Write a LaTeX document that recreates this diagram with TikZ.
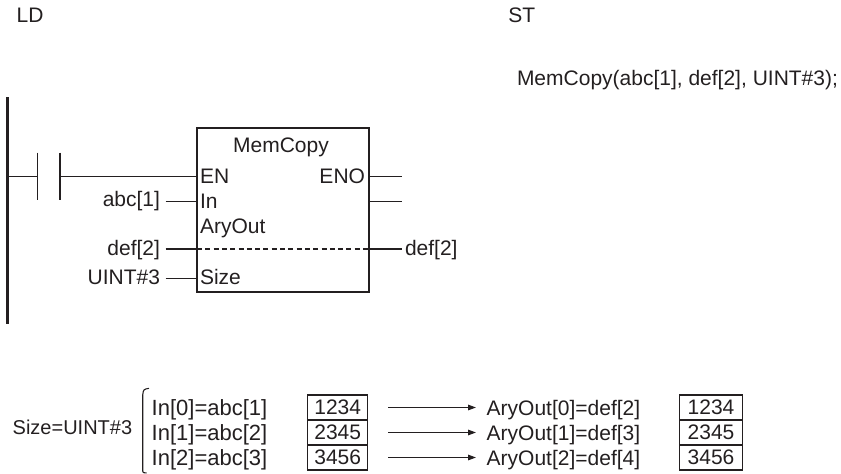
\documentclass[tikz,border=0pt]{standalone}
\usepackage{fontspec}
\setmainfont{Liberation Sans}
\usetikzlibrary{arrows.meta}
\definecolor{ink}{HTML}{231F20}
\begin{document}
\begin{tikzpicture}[x=1pt,y=-1pt,
  txt/.style={font=\fontsize{21}{25}\selectfont, inner sep=0pt, outer sep=0pt, text=ink},
  wire/.style={line width=1.3pt, draw=ink},
  rail/.style={line width=2.5pt, draw=ink},
  fbox/.style={draw=ink, line width=1.7pt, inner sep=0pt, outer sep=0pt, minimum width=172pt, minimum height=164pt},
  valbox/.style={draw=ink, line width=1.4pt, inner sep=0pt, outer sep=0pt, minimum height=25pt, font=\fontsize{21}{25}\selectfont, text=ink},
  arr/.style={line width=1.3pt, draw=ink, -{Triangle[length=8pt,width=5.5pt]}},
  brk/.style={line width=1.1pt, draw=ink}
]
\useasboundingbox (0,0) rectangle (841,474);

% headings
\node[txt,anchor=base west] (ld) at (16.7,22.7) {LD};
\node[txt,anchor=base west] (st) at (508.3,22.7) {ST};
\node[txt,anchor=base west] (stcode) at (517,85) {MemCopy(abc[1], def[2], UINT\#3);};

% power rail
\coordinate (railtop) at (7.5,97);
\coordinate (railbot) at (7.5,324);
\draw[rail] (railtop) -- (railbot);

% contact
\coordinate (r1) at (7.5,176.7);
\coordinate (ca) at (37.3,176.7);
\coordinate (cat) at (37.3,152.7);
\coordinate (cab) at (37.3,200);
\coordinate (cb) at (60,176.7);
\coordinate (cbt) at (60,152.7);
\coordinate (cbb) at (60,200);
\draw[wire] (r1) -- (ca);
\draw[wire] (cat) -- (cab);
\draw[wire] (cbt) -- (cbb);

% function block
\node[fbox] (fb) at (283,210) {};
\node[txt,anchor=base] (fname) at (281,152) {MemCopy};
\coordinate (pEN) at (197,176.7);
\coordinate (pIn) at (197,201.7);
\coordinate (pAry) at (197,249);
\coordinate (pSize) at (197,278.3);
\coordinate (qENO) at (369,176.7);
\coordinate (qOut) at (369,201.7);
\coordinate (qAry) at (369,249);
\draw[wire] (cb) -- (pEN);

\node[txt,anchor=base west] (en) at (200,183) {EN};
\node[txt,anchor=base east] (eno) at (365,183) {ENO};
\node[txt,anchor=base west] (in) at (200,208) {In};
\node[txt,anchor=base west] (aryout) at (200,233) {AryOut};
\node[txt,anchor=base west] (size) at (200,284) {Size};

% inputs
\node[txt,anchor=base east] (abc) at (160,206.5) {abc[1]};
\node[txt,anchor=base east] (defin) at (160,255.5) {def[2]};
\node[txt,anchor=base east] (uint) at (160,284.5) {UINT\#3};
\coordinate (sIn) at (165.7,201.7);
\coordinate (sAry) at (165.7,249);
\coordinate (sSize) at (165.7,278.3);
\draw[wire] (sIn) -- (pIn);
\draw[wire] (sAry) -- (pAry);
\draw[wire] (sSize) -- (pSize);
\draw[wire, dash pattern=on 5pt off 3.3pt] (pAry) -- (qAry);

% outputs
\coordinate (eENO) at (401.7,176.7);
\coordinate (eOut) at (401.7,201.7);
\coordinate (eAry) at (401.7,249);
\draw[wire] (qENO) -- (eENO);
\draw[wire] (qOut) -- (eOut);
\draw[wire] (qAry) -- (eAry);
\node[txt,anchor=base west] (defout) at (405,255.5) {def[2]};

% lower example
\node[txt,anchor=base west,font=\fontsize{20}{24}\selectfont] (sizeeq) at (12.7,434) {Size=UINT\#3};
\coordinate (bk1) at (149,388.3);
\coordinate (bk2) at (142.7,395);
\coordinate (bk3) at (142.7,471);
\coordinate (bk4) at (146.5,473);
\draw[brk] (bk1) .. controls (143.5,389.3) .. (bk2) -- (bk3) .. controls (142.9,472.6) .. (bk4);

\node[txt,anchor=base west,font=\fontsize{22}{26}\selectfont] (in0) at (151.7,415) {In[0]=abc[1]};
\node[txt,anchor=base west,font=\fontsize{22}{26}\selectfont] (in1) at (151.7,440) {In[1]=abc[2]};
\node[txt,anchor=base west,font=\fontsize{22}{26}\selectfont] (in2) at (151.7,465) {In[2]=abc[3]};

\node[valbox,minimum width=60pt] (l0) at (337.7,407.5) {1234};
\node[valbox,minimum width=60pt] (l1) at (337.7,432.5) {2345};
\node[valbox,minimum width=60pt] (l2) at (337.7,457.5) {3456};

\coordinate (a0s) at (388,407.5);
\coordinate (a1s) at (388,432.5);
\coordinate (a2s) at (388,457.5);
\coordinate (a0e) at (476,407.5);
\coordinate (a1e) at (476,432.5);
\coordinate (a2e) at (476,457.5);
\draw[arr] (a0s) -- (a0e);
\draw[arr] (a1s) -- (a1e);
\draw[arr] (a2s) -- (a2e);

\node[txt,anchor=base west] (o0) at (486.7,415) {AryOut[0]=def[2]};
\node[txt,anchor=base west] (o1) at (486.7,440) {AryOut[1]=def[3]};
\node[txt,anchor=base west] (o2) at (486.7,465) {AryOut[2]=def[4]};

\node[valbox,minimum width=63pt] (r0) at (711,407.5) {1234};
\node[valbox,minimum width=63pt] (r1b) at (711,432.5) {2345};
\node[valbox,minimum width=63pt] (r2) at (711,457.5) {3456};
\end{tikzpicture}
\end{document}
